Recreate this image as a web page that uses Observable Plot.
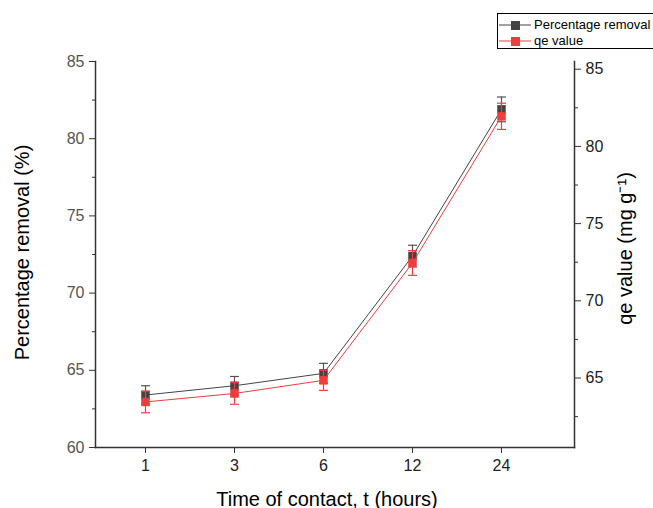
<!DOCTYPE html>
<html><head><meta charset="utf-8">
<script src="https://cdn.jsdelivr.net/npm/d3@7"></script>
<script src="https://cdn.jsdelivr.net/npm/@observablehq/plot@0.6"></script>
<style>
body{margin:0;background:#fff;overflow:hidden;}
#wrap{position:relative;width:653px;height:508px;font-family:"Liberation Sans",Arial,sans-serif;}
#legend{position:absolute;left:497px;top:13px;width:170px;height:34px;border:1px solid #000;background:#fff;font-size:13px;color:#000;}
#legend .row{position:absolute;left:0;height:16px;line-height:16px;white-space:nowrap;}
#legend svg{vertical-align:top;}
</style></head><body><div id="wrap"><div id="legend"></div></div>
<script>
const times = ["1", "3", "6", "12", "24"];
const removal = [63.4, 64.0, 64.8, 72.4, 81.9];
const removalErr = [0.6, 0.6, 0.65, 0.7, 0.8];
const qe = [63.45, 64.0, 64.85, 72.45, 81.95];
const qeErr = [0.7, 0.7, 0.65, 0.8, 0.85];
const leftTicks = [60, 65, 70, 75, 80, 85];
const rightTicks = [65, 70, 75, 80, 85];
const seriesNames = ["Percentage removal", "qe value"];
const seriesColors = ["#444444", "#f03c3c"];

const rightOffset = 0.5; // right-axis value = left-axis value + offset
const leftMinor = [62.5, 67.5, 72.5, 77.5, 82.5];
const rightMinor = [62.5, 67.5, 72.5, 77.5, 82.5];

const rows1 = times.map((t, i) => ({t, v: removal[i], lo: removal[i] - removalErr[i], hi: removal[i] + removalErr[i]}));
const rows2 = times.map((t, i) => ({t, v: qe[i] - rightOffset, lo: qe[i] - qeErr[i] - rightOffset, hi: qe[i] + qeErr[i] - rightOffset}));

const font = '"Liberation Sans", Arial, sans-serif';
const axisStroke = "#333";
const capSymbol = {draw(ctx) { ctx.moveTo(-4.5, 0); ctx.lineTo(4.5, 0); }};

function series(rows, color, errColor) {
  return [
    Plot.line(rows, {x: "t", y: "v", stroke: color, strokeWidth: 1}),
    Plot.ruleX(rows, {x: "t", y1: "lo", y2: "hi", stroke: errColor, strokeWidth: 1.2}),
    Plot.dot(rows, {x: "t", y: "hi", symbol: capSymbol, stroke: errColor, fill: "none", strokeWidth: 1.2}),
    Plot.dot(rows, {x: "t", y: "lo", symbol: capSymbol, stroke: errColor, fill: "none", strokeWidth: 1.2}),
    Plot.dot(rows, {x: "t", y: "v", symbol: "square", r: 4.8, fill: color, stroke: "none"})
  ];
}

const chart = Plot.plot({
  width: 653,
  height: 508,
  marginLeft: 95,
  marginRight: 79,
  marginTop: 61,
  marginBottom: 61,
  style: {fontFamily: font, fontSize: "16px", background: "transparent"},
  x: {type: "point", domain: times, padding: 0.676, align: 0.405},
  y: {domain: [60, 85]},
  marks: [
    Plot.frame({anchor: "left", stroke: axisStroke, strokeWidth: 1.5}),
    Plot.frame({anchor: "bottom", stroke: axisStroke, strokeWidth: 1.5}),
    Plot.frame({anchor: "right", stroke: axisStroke, strokeWidth: 1.5}),
    Plot.axisY({ticks: leftTicks, tickSize: 6, tickPadding: 5, stroke: axisStroke, fill: "#555", fontSize: 16, label: null}),
    Plot.axisY({ticks: leftMinor, tickSize: 3, tickFormat: () => "", stroke: axisStroke, label: null}),
    Plot.axisY({anchor: "right", ticks: rightTicks.map(v => v - rightOffset), tickFormat: d => String(Math.round(d + rightOffset)), tickSize: 6, tickPadding: 5, stroke: axisStroke, fill: "#222", fontSize: 16, label: null}),
    Plot.axisY({anchor: "right", ticks: rightMinor.map(v => v - rightOffset), tickSize: 3, tickFormat: () => "", stroke: axisStroke, label: null}),
    Plot.axisX({tickSize: 6, tickPadding: 6, stroke: axisStroke, fill: "#222", fontSize: 16, label: null}),
    ...series(rows1, seriesColors[0], "#555"),
    ...series(rows2, seriesColors[1], seriesColors[1]),
    Plot.text(["Percentage removal (%)"], {text: d => d, frameAnchor: "left", textAnchor: "middle", lineAnchor: "middle", rotate: -90, dx: -73, dy: -2, fontSize: 20, fill: "#000"}),
    Plot.text(["qe value (mg g⁻¹)"], {text: d => d, frameAnchor: "right", textAnchor: "middle", lineAnchor: "middle", rotate: -90, dx: 51, dy: -6, fontSize: 20, fill: "#000"}),
    Plot.text(["Time of contact, t (hours)"], {text: d => d, frameAnchor: "bottom", textAnchor: "middle", lineAnchor: "bottom", dx: -8, dy: 58, fontSize: 20, fill: "#000"})
  ]
});
document.getElementById("wrap").prepend(chart);

// legend
const legend = document.getElementById("legend");
seriesNames.forEach((name, i) => {
  const row = document.createElement("div");
  row.className = "row";
  row.style.top = (3 + i * 16) + "px";
  row.innerHTML = `<svg width="36" height="16"><line x1="1" x2="33" y1="8" y2="8" stroke="${seriesColors[i]}" stroke-width="1"/><rect x="13" y="4" width="9" height="9" fill="${seriesColors[i]}"/></svg><span>${name}</span>`;
  legend.appendChild(row);
});
</script>
</body></html>
